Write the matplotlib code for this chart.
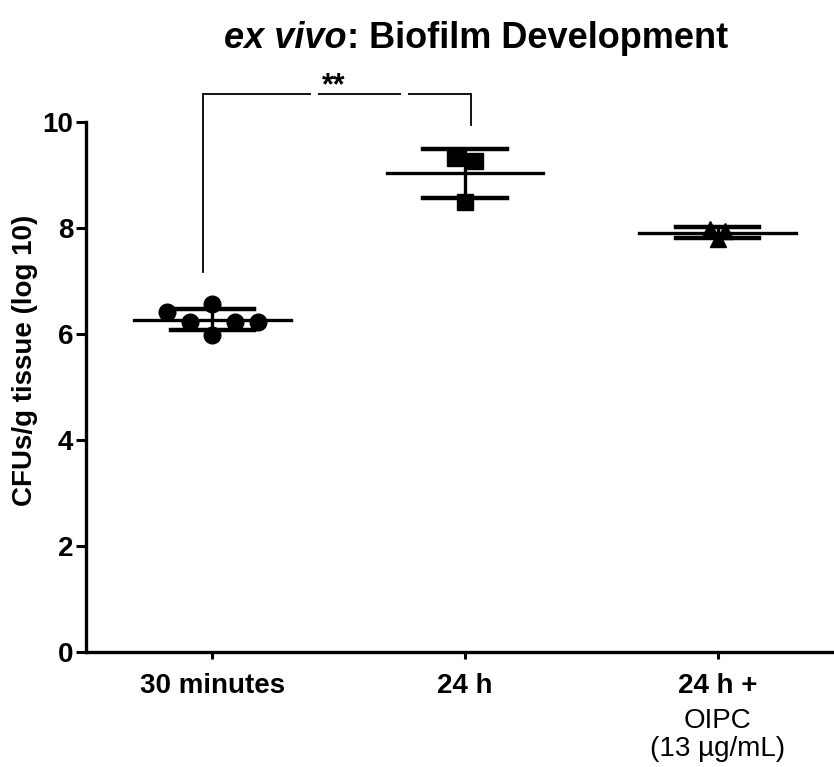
import matplotlib
matplotlib.use("Agg")
import matplotlib.pyplot as plt
from matplotlib.transforms import blended_transform_factory
import numpy as np

plt.rcParams['font.family'] = ['Liberation Sans', 'DejaVu Sans']

categories = ["30 minutes", "24 h", "24 h +"]
category_sublabels = ["", "", "OIPC\n(13 µg/mL)"]
g1_x = [-0.18, -0.09, 0.0, 0.0, 0.09, 0.18]
g1_y = [6.42, 6.22, 6.57, 5.98, 6.22, 6.22]
g2_x = [0.96, 1.04, 1.0]
g2_y = [9.33, 9.27, 8.50]
g3_x = [1.97, 2.03, 2.0]
g3_y = [7.99, 7.95, 7.80]

fig = plt.figure(figsize=(8.34, 7.67), dpi=100)
ax = fig.add_axes([0.103, 0.150, 0.897, 0.760])

groups = [(0, g1_x, g1_y, 'o', 12), (1, g2_x, g2_y, 's', 12), (2, g3_x, g3_y, '^', 12)]
for pos, xs, ys, mk, ms in groups:
    ys = np.array(ys)
    m = ys.mean()
    sd = ys.std(ddof=1)
    ax.plot(xs, ys, linestyle='none', marker=mk, markersize=ms, color='black', zorder=3)
    ax.plot([pos - 0.31, pos + 0.31], [m, m], color='black', lw=2.4, zorder=4)
    ax.plot([pos, pos], [m - sd, m + sd], color='black', lw=2.4, zorder=4)
    for v in (m - sd, m + sd):
        ax.plot([pos - 0.165, pos + 0.165], [v, v], color='black', lw=3.2, zorder=4)

# significance bracket
yb = 10.53
lw_b = 1.3
ax.plot([-0.035, -0.035], [7.17, yb], color='black', lw=lw_b, clip_on=False)
ax.plot([1.025, 1.025], [9.94, yb], color='black', lw=lw_b, clip_on=False)
for a, b in [(-0.035, 0.39), (0.42, 0.745), (0.775, 1.025)]:
    ax.plot([a, b], [yb, yb], color='black', lw=lw_b, clip_on=False, solid_capstyle='butt')
ax.text(0.48, yb - 0.14, "**", ha='center', va='bottom', fontsize=22, fontweight='bold')

ax.set_xlim(-0.5, 2.46)
ax.set_ylim(0, 11)
ax.set_yticks([0, 2, 4, 6, 8, 10])
ax.set_xticks([0, 1, 2])
ax.set_xticklabels(categories, fontsize=20, fontweight='bold')
trans = blended_transform_factory(ax.transData, ax.transAxes)
for i, sub in enumerate(category_sublabels):
    if sub:
        ax.annotate(sub, xy=(i, 0), xycoords=trans, xytext=(0, -40),
                    textcoords='offset points', ha='center', va='top',
                    fontsize=20, linespacing=1.1)
for lab in ax.get_yticklabels():
    lab.set_fontsize(20)
    lab.set_fontweight('bold')
ax.tick_params(axis='y', length=7, width=2.2, pad=2)
ax.tick_params(axis='x', length=5, width=2.2, pad=10)
ax.spines['top'].set_visible(False)
ax.spines['right'].set_visible(False)
ax.spines['left'].set_linewidth(2.4)
ax.spines['bottom'].set_linewidth(2.4)
ax.spines['left'].set_bounds(0, 10)
ax.set_ylabel("CFUs/g tissue (log 10)", fontsize=20, fontweight='bold', labelpad=3)

# title: italic part + normal part
t1 = fig.text(0.0, 0.950, "ex vivo", fontsize=26, fontweight='bold', fontstyle='italic', va='center')
t2 = fig.text(0.0, 0.950, ": Biofilm Development", fontsize=26, fontweight='bold', va='center')
fig.canvas.draw()
r = fig.canvas.get_renderer()
w1 = t1.get_window_extent(r).width
w2 = t2.get_window_extent(r).width
W = fig.bbox.width
cx = 476
start = cx - (w1 + w2) / 2
t1.set_x(start / W)
t2.set_x((start + w1) / W)

fig.savefig("out.png", dpi=100)
